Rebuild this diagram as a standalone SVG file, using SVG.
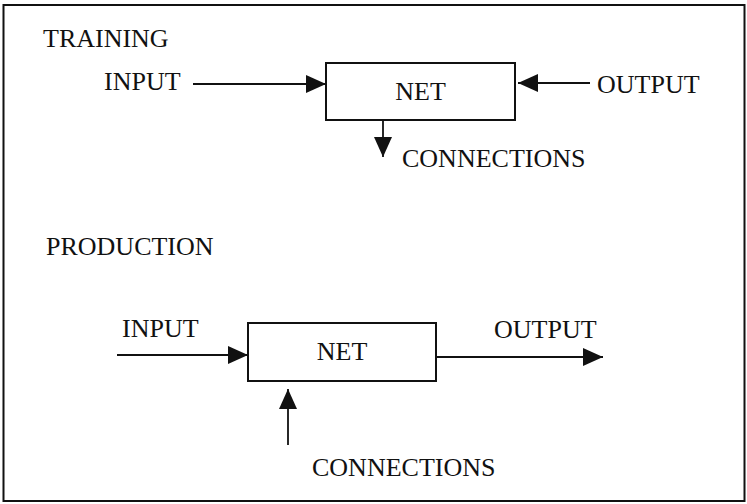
<svg xmlns="http://www.w3.org/2000/svg" width="747" height="504" viewBox="0 0 747 504">
  <style>
    .lbl { font-family: "Liberation Serif", "Times New Roman", serif; font-size: 26px; fill: #111; }
    .box { fill: #fff; stroke: #111; stroke-width: 2; }
    .wire { stroke: #111; stroke-width: 1.8; fill: none; }
    .frame { fill: none; stroke: #111; stroke-width: 2; }
  </style>
  <defs>
    <marker id="head" markerUnits="userSpaceOnUse" markerWidth="21" markerHeight="19" refX="20" refY="9" orient="auto">
      <polygon points="0,0 20,9 0,18" fill="#111"/>
    </marker>
  </defs>

  <rect class="frame" x="3.5" y="5" width="741" height="496"/>

  <!-- section titles -->
  <text class="lbl" x="43" y="47">TRAINING</text>
  <text class="lbl" x="46" y="255">PRODUCTION</text>

  <!-- training mode -->
  <g id="train-net">
    <rect class="box" x="326" y="63" width="189" height="57"/>
    <text class="lbl" x="420.5" y="100" text-anchor="middle">NET</text>
  </g>
  <g id="train-input">
    <text class="lbl" x="104" y="90">INPUT</text>
  </g>
  <g id="train-output">
    <text class="lbl" x="597" y="93">OUTPUT</text>
  </g>
  <g id="train-connections">
    <text class="lbl" x="402" y="167">CONNECTIONS</text>
  </g>

  <!-- production mode -->
  <g id="prod-net">
    <rect class="box" x="248" y="323" width="188" height="58"/>
    <text class="lbl" x="342" y="360" text-anchor="middle">NET</text>
  </g>
  <g id="prod-input">
    <text class="lbl" x="122" y="337">INPUT</text>
  </g>
  <g id="prod-output">
    <text class="lbl" x="494" y="338">OUTPUT</text>
  </g>
  <g id="prod-connections">
    <text class="lbl" x="312" y="476">CONNECTIONS</text>
  </g>

  <g id="connectors">
    <line class="wire" x1="193" y1="84" x2="326" y2="84" marker-end="url(#head)"/>
    <line class="wire" x1="590" y1="83" x2="518" y2="83" marker-end="url(#head)"/>
    <line class="wire" x1="383" y1="120" x2="383" y2="157" marker-end="url(#head)"/>
    <line class="wire" x1="117" y1="355" x2="248" y2="355" marker-end="url(#head)"/>
    <line class="wire" x1="288" y1="445" x2="288" y2="389" marker-end="url(#head)"/>
    <line class="wire" x1="436" y1="357" x2="603" y2="357" marker-end="url(#head)"/>
  </g>
</svg>
